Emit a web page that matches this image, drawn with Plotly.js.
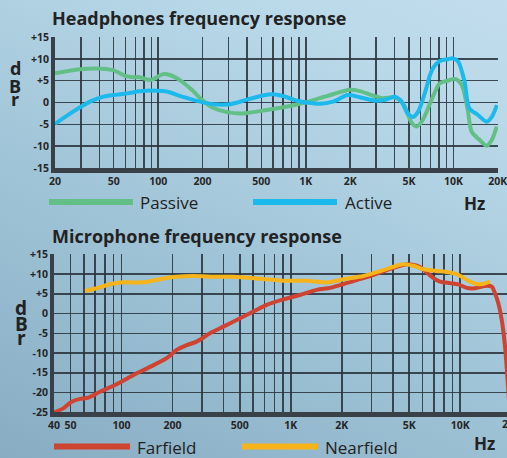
<!DOCTYPE html>
<html>
<head>
<meta charset="utf-8">
<script src="https://cdn.plot.ly/plotly-3.0.1.min.js"></script>
<style>
html,body{margin:0;padding:0;width:507px;height:458px;overflow:hidden;
background:linear-gradient(25deg,#88acc2 0%,#a1c5d8 45%,#b8d8e8 80%,#c2dded 100%);}
#chart{width:507px;height:458px;}
</style>
</head>
<body>
<div id="chart"></div>
<script>
// Headphones frequency response
const passiveFreq = [20, 29.5, 38, 49.4, 59.6, 67.5, 75, 85, 92, 108, 120, 145, 169, 198, 235, 292, 375, 545, 780, 985, 1245, 1525, 1990, 2320, 2845, 3330, 3880, 4330, 4680, 5225, 5650, 6200, 7250, 8090, 9160, 10220, 11390, 12500, 13300, 15080, 16820, 18190, 19660];
const passiveDb   = [6.7, 7.6, 7.8, 7.4, 6.1, 5.8, 5.8, 5.2, 5.3, 6.5, 6.3, 4.8, 2.9, 0.6, -1.2, -2.2, -2.5, -1.7, -0.8, 0, 1.0, 1.9, 2.9, 2.6, 1.6, 1.0, 1.2, 0.6, -0.9, -4.7, -5.5, -4.0, 1.3, 4.4, 5.0, 5.4, 4.0, -1.7, -6.7, -8.6, -9.9, -8.6, -5.5];
const activeFreq  = [20, 26.5, 34.5, 42, 52.5, 64.5, 75, 98, 114, 147, 192, 236, 306, 395, 510, 600, 700, 870, 1010, 1250, 1530, 1930, 2320, 3000, 3520, 4000, 4450, 4900, 5330, 5770, 6400, 7150, 8090, 9150, 9900, 10750, 11900, 12800, 14600, 16800, 18200, 19700];
const activeDb    = [-4.9, -2.1, 0.2, 1.3, 1.8, 2.2, 2.6, 2.7, 2.5, 1.3, 0.2, -0.4, -0.4, 0.6, 1.6, 1.9, 1.5, 0.4, 0, -0.3, 0.2, 1.7, 1.2, 0.4, 0.7, 1.3, 0.2, -2.5, -3.3, -2.1, 2.1, 7.4, 9.5, 9.9, 10.1, 9.4, 4.8, -1.3, -2.8, -4.4, -3.3, -0.6];

// Microphone frequency response
const farFreq  = [40, 45.4, 50.9, 57, 63.8, 74.7, 91.6, 117.5, 147.5, 185, 212, 243, 278, 333, 400, 501, 601, 720, 903, 1133, 1421, 1703, 1951, 2448, 2933, 3680, 4412, 4936, 5535, 6056, 6790, 7600, 8700, 9740, 10920, 12220, 14000, 15340, 16050, 16790, 17580, 18390, 18800, 19400];
const farDb    = [-25, -24, -22.3, -21.6, -21.3, -19.8, -18.1, -15.6, -13.5, -11.3, -9.2, -8.0, -7.1, -5.0, -3.3, -1.2, 0.5, 2.2, 3.6, 4.7, 6.0, 6.5, 7.2, 8.5, 9.5, 11.0, 12.1, 12.5, 12.1, 11.2, 9.3, 8.1, 7.7, 7.4, 6.5, 6.4, 7.0, 6.8, 5.1, 2.6, -1.6, -8.4, -13.5, -22];
const nearFreq = [61, 71.5, 85.6, 102.6, 134.6, 169, 212, 265.6, 365, 457.6, 629, 903, 1240, 1665, 2040, 2680, 3517, 4612, 5287, 6056, 7265, 8700, 9740, 11420, 13090, 14990];
const nearDb   = [5.7, 6.4, 7.4, 7.9, 7.9, 8.7, 9.3, 9.5, 9.3, 9.3, 8.9, 8.3, 8.3, 7.9, 8.7, 9.5, 11.0, 12.5, 12.1, 11.2, 10.8, 10.4, 9.8, 8.1, 7.4, 8.1];

// Axis ticks
const hpGridHz   = [20,30,40,50,60,70,80,90,100,200,300,400,500,600,700,800,900,1000,2000,3000,4000,5000,6000,7000,8000,9000,10000,20000];
const hpLabels   = {20:'20',50:'50',100:'100',200:'200',500:'500',1000:'1K',2000:'2K',5000:'5K',10000:'10K',20000:'20K'};
const micGridHz  = [40,50,60,70,80,90,100,200,300,400,500,600,700,800,900,1000,2000,3000,4000,5000,6000,7000,8000,9000,10000];
const micLabels  = {40:'40',50:'50',100:'100',200:'200',500:'500',1000:'1K',2000:'2K',5000:'5K',10000:'10K'};
const hpDbTicks  = [-15,-10,-5,0,5,10,15];
const micDbTicks = [-25,-20,-15,-10,-5,0,5,10,15];
const dbText = v => v > 0 ? '+' + v : String(v);

const W = 507, H = 458;
const px = x => x / W;
const py = y => 1 - y / H;

const GREEN = '#62c086', BLUE = '#1cb9ec', RED = '#cf4331', YELLOW = '#f6b41a';
const GRID = 'rgba(42,52,62,0.88)', AXIS = '#394048';
const tickFont = {family: 'Open Sans', size: 10.5, color: '#262626', weight: 700};

function xAxis(gridHz, labels, range, domain, anchor) {
  return {
    type: 'log', range: range, domain: domain, anchor: anchor,
    tickmode: 'array', tickvals: gridHz, ticktext: gridHz.map(v => labels[v] || ''),
    showgrid: true, gridcolor: GRID, gridwidth: 1.5,
    showline: true, linecolor: AXIS, linewidth: 4.5, ticks: '',
    ticklabeloverflow: 'allow',
    tickfont: tickFont, zeroline: false, fixedrange: true
  };
}
function yAxis(ticks, range, domain, anchor) {
  return {
    range: range, domain: domain, anchor: anchor,
    tickmode: 'array', tickvals: ticks, ticktext: ticks.map(dbText),
    showgrid: false, zeroline: false,
    minor: {tickmode: 'array', tickvals: ticks.slice(1, -1), showgrid: true, gridcolor: GRID, gridwidth: 1.5, ticks: ''},
    showline: true, linecolor: AXIS, linewidth: 4, ticks: '',
    tickfont: tickFont, fixedrange: true
  };
}

const traces = [
  {x: passiveFreq, y: passiveDb, xaxis: 'x', yaxis: 'y', mode: 'lines', line: {color: GREEN, width: 4, shape: 'spline', smoothing: 0.8}, name: 'Passive'},
  {x: activeFreq, y: activeDb, xaxis: 'x', yaxis: 'y', mode: 'lines', line: {color: BLUE, width: 4, shape: 'spline', smoothing: 0.8}, name: 'Active'},
  {x: farFreq, y: farDb, xaxis: 'x2', yaxis: 'y2', mode: 'lines', line: {color: RED, width: 4, shape: 'spline', smoothing: 0.8}, name: 'Farfield'},
  {x: nearFreq, y: nearDb, xaxis: 'x2', yaxis: 'y2', mode: 'lines', line: {color: YELLOW, width: 4, shape: 'spline', smoothing: 0.8}, name: 'Nearfield'}
];

const micStart = Math.log10(40);
const micEnd = micStart + (507 - 54) / 169.4;

const txt = (t, x, y, opts) => Object.assign({
  text: t, xref: 'paper', yref: 'paper', x: px(x), y: py(y), showarrow: false,
  xanchor: 'left', yanchor: 'middle', borderpad: 0,
  font: {family: 'Open Sans', size: 17, color: '#222'}
}, opts || {});
const bold = (size) => ({family: 'Open Sans', size: size, color: '#222', weight: 700});

const layout = {
  width: W, height: H, margin: {l: 0, r: 0, t: 0, b: 0},
  paper_bgcolor: 'rgba(0,0,0,0)', plot_bgcolor: 'rgba(0,0,0,0)',
  showlegend: false,
  xaxis: xAxis(hpGridHz, hpLabels, [Math.log10(20), Math.log10(20050)], [px(55), px(498)], 'y'),
  yaxis: yAxis(hpDbTicks, [-15, 15], [py(168), py(37)], 'x'),
  xaxis2: xAxis(micGridHz, micLabels, [micStart, micEnd], [px(54), 1], 'y2'),
  yaxis2: yAxis(micDbTicks, [-25, 15], [py(412.3), py(254.3)], 'x2'),
  shapes: [
    {type: 'line', xref: 'paper', yref: 'paper', x0: px(49), x1: px(133), y0: py(202), y1: py(202), line: {color: GREEN, width: 6}},
    {type: 'line', xref: 'paper', yref: 'paper', x0: px(253), x1: px(337), y0: py(202), y1: py(202), line: {color: BLUE, width: 6}},
    {type: 'line', xref: 'paper', yref: 'paper', x0: px(54), x1: px(130), y0: py(446.5), y1: py(446.5), line: {color: RED, width: 6}},
    {type: 'line', xref: 'paper', yref: 'paper', x0: px(242), x1: px(318), y0: py(446.5), y1: py(446.5), line: {color: YELLOW, width: 6}}
  ],
  annotations: [
    txt('Headphones frequency response', 51, 18, {font: bold(18)}),
    txt('Microphone frequency response', 51, 236, {font: bold(18)}),
    txt('d', 15, 68, {xanchor: 'center', font: bold(18)}),
    txt('B', 15, 86, {xanchor: 'center', font: bold(18)}),
    txt('r', 15, 99, {xanchor: 'center', font: bold(18)}),
    txt('d', 21, 308, {xanchor: 'center', font: bold(19)}),
    txt('B', 21, 324, {xanchor: 'center', font: bold(19)}),
    txt('r', 21, 338, {xanchor: 'center', font: bold(19)}),
    txt('Passive', 139, 202),
    txt('Active', 344, 202),
    txt('Hz', 463, 203, {font: bold(17)}),
    txt('Farfield', 136, 447),
    txt('Nearfield', 324, 447),
    txt('Hz', 473, 443, {font: bold(17)}),
    txt('20K', 511, 424, {xanchor: 'center', font: tickFont})
  ]
};

Plotly.newPlot('chart', traces, layout, {displayModeBar: false, staticPlot: true});
</script>
</body>
</html>
